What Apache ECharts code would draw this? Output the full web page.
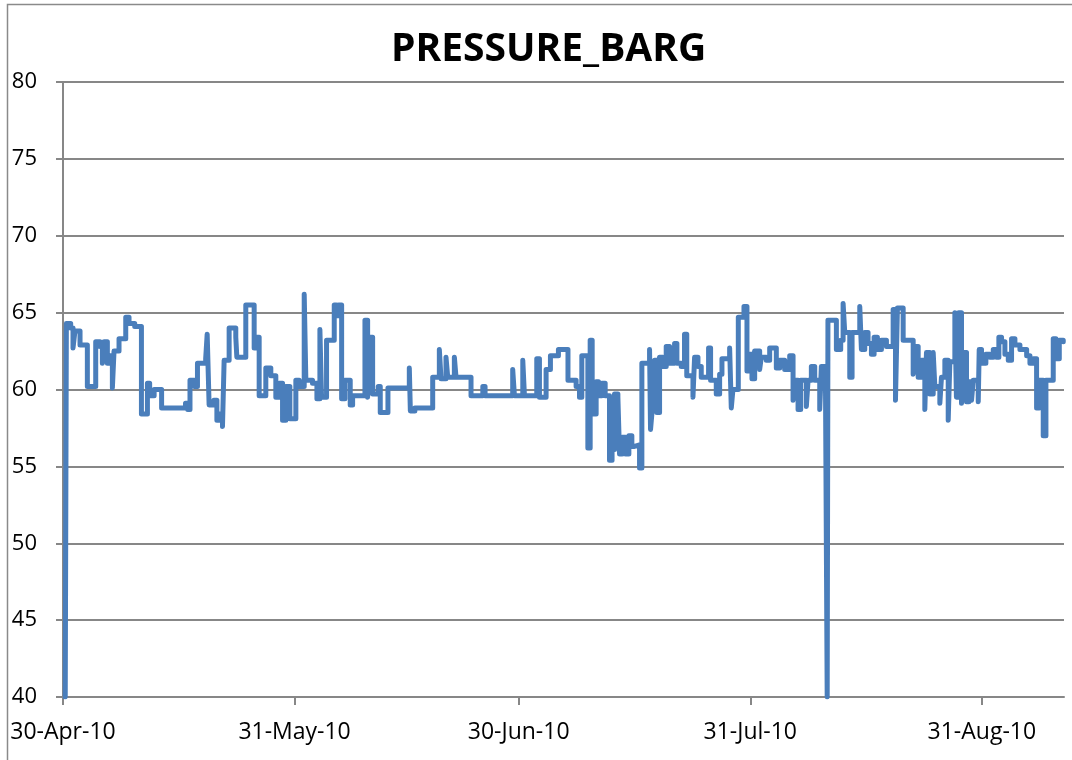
<!DOCTYPE html>
<html>
<head>
<meta charset="utf-8">
<title>PRESSURE_BARG</title>
<script src="https://cdn.jsdelivr.net/npm/echarts@6/dist/echarts.min.js"></script>
<style>
  html, body { margin: 0; padding: 0; background: #fff; }
  #chart { width: 1072px; height: 760px; }
</style>
</head>
<body>
<div id="chart"></div>
<script>
// days counted from 30-Apr-10, each entry is where a new level starts
const days = [
  0.3, 0.45, 1.03, 1.34, 1.6, 2.28, 3.26, 4.38, 4.96, 5.27, 5.49, 5.94, 6.3, 6.61, 6.83, 7.5,
  8.4, 8.84, 9.6, 10.5, 11.3, 11.6, 12.2, 13.2, 16.4, 16.7, 17.0, 17.6, 18.0, 19.1, 19.3, 19.56,
  20.2, 20.6, 21.0, 21.35, 21.57, 22.24, 23.13, 23.27, 24.47, 25.59, 25.9, 26.26, 27.15, 27.82,
  28.49, 28.94, 29.39, 29.83, 30.37, 31.17, 31.62, 32.29, 32.51, 33.4, 33.99, 34.39, 34.61, 35.28,
  36.31, 36.6, 36.9, 37.3, 37.74, 38.45, 38.77, 40.42, 40.78, 41.0, 41.45, 42.2, 42.47, 43.5,
  46.36, 46.5, 47.1, 49.49, 50.38, 50.6, 51.27, 51.5, 52.39, 52.61, 54.62, 56.2, 56.5, 60.2,
  60.43, 61.55, 61.77, 63.42, 63.78, 64.67, 65.25, 66.32, 67.6, 68.69, 69.14, 69.45, 70.26, 70.57,
  70.84, 71.37, 71.69, 72.13, 72.58, 73.16, 73.5, 73.83, 74.28, 74.5, 74.86, 75.3, 75.75, 76.15,
  76.5, 77.18, 77.49, 78.52, 78.65, 78.88, 79.19, 79.5, 79.86, 80.3, 80.75, 81.2, 81.87, 82.18,
  82.76, 83.2, 83.5, 84.33, 84.55, 85.0, 85.44, 86.42, 86.69, 87.45, 87.9, 88.21, 89.24, 89.46,
  89.68, 90.4, 91.16, 91.56, 91.83, 92.23, 92.59, 93.26, 93.48, 94.15, 94.6, 95.49, 95.94, 96.61,
  97.28, 97.73, 97.95, 98.4, 98.75, 99.51, 99.74, 100.18, 100.63, 101.3, 101.52, 102.06, 102.3, 102.4,
  103.53, 104.11, 104.43, 104.65, 105.32, 105.63, 106.66, 106.88, 107.33, 107.77, 108.22, 108.58,
  109.02, 109.56, 110.23, 111.13, 111.44, 111.7, 112.47, 113.81, 114.03, 114.48, 114.92, 115.37,
  115.59, 116.04, 116.49, 116.71, 117.38, 117.6, 118.05, 118.5, 118.72, 119.39, 119.6, 119.9,
  120.28, 120.5, 120.95, 121.27, 121.62, 121.85, 122.52, 122.65, 122.96, 123.54, 124.08, 124.53,
  124.97, 125.28, 125.64, 126.09, 126.54, 126.98, 127.43, 128.1, 129.0, 129.44, 129.89, 130.33,
  130.69, 131.22, 131.58, 132.56, 132.92, 133.37, 133.9
]

const pressure = [
  40, 64.3, 64.0, 62.7, 63.8, 62.9, 60.2, 63.1, 62.8, 61.7, 63.1, 61.7, 62.2, 60.1, 62.5, 63.3,
  64.7, 64.3, 64.1, 58.4, 60.4, 59.6, 60.0, 58.8, 59.1, 58.7, 60.6, 60.2, 61.7, 62.0, 63.6, 59.0,
  59.3, 58.0, 58.4, 57.6, 61.9, 64.0, 63.4, 62.1, 65.5, 62.7, 63.4, 59.6, 61.4, 60.9,
  59.5, 60.4, 58.0, 60.2, 58.1, 60.6, 60.2, 66.2, 60.6, 60.4, 59.4, 63.9, 59.5, 63.2,
  65.5, 64.8, 65.5, 59.4, 60.6, 59.0, 59.6, 64.5, 59.5, 63.4, 59.7, 60.2, 58.5, 60.1,
  61.4, 58.6, 58.8, 60.8, 62.6, 60.7, 62.1, 60.8, 62.1, 60.8, 59.6, 60.2, 59.6, 61.3,
  59.6, 61.9, 59.6, 62.0, 59.5, 61.3, 62.2, 62.6, 60.6, 60.2, 59.5, 62.2, 56.2, 63.2,
  58.4, 60.5, 59.6, 60.4, 59.6, 55.4, 56.1, 59.7, 59.5, 55.8, 56.9, 55.8, 57.0, 56.3,
  56.4, 54.9, 61.7, 62.6, 57.4, 58.7, 61.9, 58.5, 62.1, 61.5, 62.8, 61.7, 63.0, 61.7,
  61.5, 63.6, 60.9, 59.5, 62.1, 61.5, 60.8, 62.7, 60.6, 59.7, 61.0, 62.0, 62.7, 58.8,
  60.0, 64.7, 65.4, 61.2, 62.3, 60.7, 62.5, 61.3, 62.1, 61.9, 62.7, 61.4, 61.9, 61.3,
  62.2, 59.3, 60.6, 58.7, 60.6, 58.9, 60.6, 61.5, 60.6, 58.7, 61.5, 61.3, 40, 64.5,
  62.6, 63.2, 65.6, 63.7, 60.8, 63.7, 65.4, 62.6, 63.7, 63.0, 62.3, 63.4,
  62.6, 63.2, 62.8, 65.2, 59.3, 65.3, 63.2, 61.0, 62.8, 60.8, 61.9, 58.7,
  62.4, 59.7, 62.4, 60.2, 59.1, 60.8, 61.9, 58.0, 61.8, 65.0, 59.5, 65.0,
  59.1, 62.4, 59.2, 60.5, 59.3, 60.6, 59.2, 62.6, 61.7, 62.3, 62.1, 62.6,
  62.1, 63.4, 63.1, 62.3, 61.9, 63.3, 62.9, 62.6, 62.2, 61.7, 62.0, 58.8,
  60.6, 57.0, 60.6, 63.3, 62.0, 63.2, 63.1
]

// x axis ticks (days from 30-Apr-10) and their labels
const tickDays = [0, 31, 61, 92, 123]
const tickLabels = ['30-Apr-10', '31-May-10', '30-Jun-10', '31-Jul-10', '31-Aug-10']

const seriesData = days.map((d, i) => [d, pressure[i]])

const chart = echarts.init(document.getElementById('chart'))

const axisGray = '#878787'
const font = 'Open Sans'

chart.setOption({
  animation: false,
  backgroundColor: '#fff',
  title: {
    text: 'PRESSURE_BARG',
    left: 386,
    top: 25,
    textStyle: {
      fontFamily: font,
      fontSize: 39,
      fontWeight: 'bold',
      color: '#000'
    }
  },
  graphic: [
    {
      type: 'rect',
      shape: { x: 7.5, y: 4.5, width: 1200, height: 1000 },
      style: { fill: 'none', stroke: '#8a8a8a', lineWidth: 1.5 },
      silent: true
    }
  ],
  grid: {
    left: 63,
    right: 8,
    top: 82,
    bottom: 63,
    containLabel: false
  },
  xAxis: {
    type: 'value',
    min: 0,
    max: 134,
    axisLine: { show: true, lineStyle: { color: axisGray, width: 2 } },
    axisTick: {
      show: true,
      customValues: tickDays,
      length: 8,
      lineStyle: { color: axisGray, width: 2 }
    },
    axisLabel: {
      customValues: tickDays,
      formatter: (v) => {
        const i = tickDays.indexOf(Math.round(v))
        return i >= 0 ? tickLabels[i] : ''
      },
      margin: 24,
      fontFamily: font,
      fontSize: 23,
      color: '#000'
    },
    splitLine: { show: false }
  },
  yAxis: {
    type: 'value',
    min: 40,
    max: 80,
    interval: 5,
    axisLine: { show: true, lineStyle: { color: axisGray, width: 2 } },
    axisTick: { show: true, length: 7, lineStyle: { color: axisGray, width: 2 } },
    axisLabel: {
      margin: 26,
      fontFamily: font,
      fontSize: 22,
      color: '#000'
    },
    splitLine: { show: true, lineStyle: { color: axisGray, width: 2 } }
  },
  series: [
    {
      type: 'line',
      step: 'end',
      data: seriesData,
      showSymbol: false,
      clip: true,
      lineStyle: { color: '#4a7ebb', width: 5, cap: 'round', join: 'round' }
    }
  ]
})
</script>
</body>
</html>
